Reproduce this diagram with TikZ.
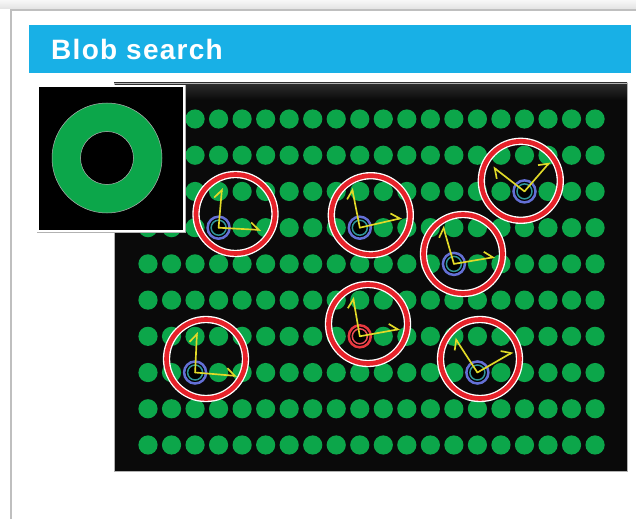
\documentclass[tikz,border=0pt]{standalone}
\usepackage{fontspec}
\newfontfamily\titlefont[LetterSpace=4.5]{Liberation Sans}
\usetikzlibrary{arrows.meta}
\definecolor{barblue}{RGB}{24,176,230}
\definecolor{dotgreen}{RGB}{12,166,74}
\definecolor{hitred}{RGB}{230,34,42}
\definecolor{axisyellow}{RGB}{226,218,40}
\definecolor{markblue}{RGB}{100,112,214}
\definecolor{markteal}{RGB}{48,150,150}

\tikzset{
  greendot/.style={fill=dotgreen},
  axisline/.style={axisyellow, line width=0.5mm, line cap=round,
    -{Straight Barb[left, length=2.4mm, width=4.2mm]}},
  hitring/.style={draw=white, line width=2.2mm},
  hitband/.style={draw=hitred, line width=1.4mm},
}

\begin{document}
\begin{tikzpicture}[x=0.3mm, y=-0.3mm]
\useasboundingbox (0,0) rectangle (636,519);
\clip (0,0) rectangle (636,519);
\fill[white] (0,0) rectangle (636,519);
\shade[top color=gray!6, bottom color=gray!22] (0,0) rectangle (636,9);
\draw[gray!50, line width=0.45mm] (11,530) -- (11,10) -- (645,10);

\fill[barblue] (29,25) rectangle (631,73);
\node[anchor=base west, inner sep=0pt, text=white, font=\titlefont\bfseries\fontsize{23.9}{28}\selectfont] (title) at (51,60) {Blob search};

\fill[black!96] (114,83) rectangle (627,471);
\shade[top color=black!82, bottom color=black!96] (114,83) rectangle (627,100);
\draw[gray!60, line width=0.2mm] (114,83) rectangle (627,471);

\foreach \i in {0,...,19}
  \foreach \j in {0,...,9}
    \fill[greendot] ({148+23.53*\i},{119+36.22*\j}) circle (9.6);

\foreach \n/\bx/\by/\cx/\cy/\xx/\xy/\yx/\yy in {
  1/218.6/227.7/235.5/214/261/230/222/188,
  2/359.8/227.7/370.8/215.2/402/218/352/188,
  3/524.5/191.4/520.8/180.8/550/162/493/167,
  4/453.9/263.9/463/254/495/257/443/226,
  5/359.8/336.3/368/324/400/329/353/297,
  6/195.1/372.5/206/359/237/376/197/332,
  7/477.4/372.5/480/359/513/352/455/338}{
  \coordinate (blob\n) at (\bx,\by);
  \coordinate (hit\n) at (\cx,\cy);
  \coordinate (xtip\n) at (\xx,\xy);
  \coordinate (ytip\n) at (\yx,\yy);
  \fill[black] (blob\n) circle (11);
  \ifnum\n=5
    \draw[hitred!90, line width=0.75mm] (blob\n) circle (11);
    \draw[hitred!80, line width=0.45mm] (blob\n) circle (7.5);
  \else
    \draw[markblue, line width=0.75mm] (blob\n) circle (11);
    \draw[markteal, line width=0.45mm] (blob\n) circle (7.5);
  \fi
  \draw[axisline] (blob\n) -- (xtip\n);
  \draw[axisline] (blob\n) -- (ytip\n);
  \draw[hitring] (hit\n) circle (39.5);
  \draw[hitband] (hit\n) circle (39.5);
}

\draw[gray!60, line width=0.2mm, fill=black] (37,85) rectangle (185,232);
\draw[white, line width=0.6mm] (38,86) rectangle (184,231);
\draw[fill=dotgreen, draw=gray!60, line width=0.15mm, even odd rule]
  (107,158) circle (55) (107,158) circle (26.5);
\end{tikzpicture}
\end{document}
